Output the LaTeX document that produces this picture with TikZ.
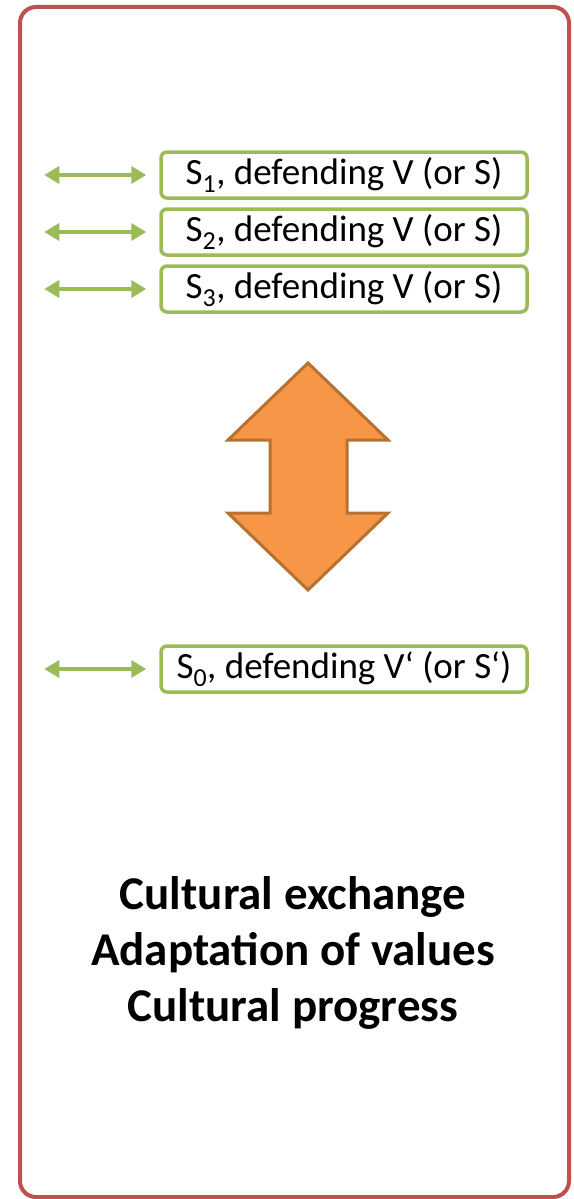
\documentclass[tikz,border=0pt]{standalone}
\usepackage{fontspec}
\setmainfont{Carlito}
\usetikzlibrary{arrows.meta}

\definecolor{framered}{RGB}{192,80,77}
\definecolor{leafgreen}{RGB}{155,187,89}
\definecolor{orangefill}{RGB}{247,150,70}
\definecolor{orangeline}{RGB}{183,113,48}

\tikzset{
  society/.style={draw=leafgreen, line width=3.5pt, rounded corners=6pt,
                  minimum width=366pt, minimum height=46pt, inner sep=0pt,
                  font=\fontsize{37}{40}\selectfont},
  pairarrow/.style={leafgreen, line width=3.5pt,
                    {Triangle[length=15pt,width=17pt]}-{Triangle[length=15pt,width=17pt]}}
}

\begin{document}
\begin{tikzpicture}[x=1pt,y=-1pt]
  \useasboundingbox (0,0) rectangle (573,1199);

  % outer frame
  \draw[framered, line width=4pt, rounded corners=16pt] (20,7) rectangle (569,1197);

  % the societies
  \node[society] (s1) at (344,175) {S\textsubscript{1}, defending V (or S)};
  \node[society] (s2) at (344,232) {S\textsubscript{2}, defending V (or S)};
  \node[society] (s3) at (344,289) {S\textsubscript{3}, defending V (or S)};
  \node[society] (s0) at (344,669) {S\textsubscript{0}, defending V‘ (or S‘)};

  \foreach \s in {s1,s2,s3,s0}
    \draw[pairarrow] ([xshift=-115pt]\s.west) -- ([xshift=-13pt]\s.west);

  % exchange between them
  \draw[fill=orangefill, draw=orangeline, line width=3pt, line join=miter]
    (308,363) -- (388,440) -- (347,440) -- (347,513) -- (388,513) -- (308,590)
    -- (228,513) -- (270,513) -- (270,440) -- (228,440) -- cycle;

  \node[font=\fontsize{47}{56}\selectfont\bfseries, align=center] (outcome) at (293,953)
    {Cultural exchange\\Adaptation of values\\Cultural progress};
\end{tikzpicture}
\end{document}
